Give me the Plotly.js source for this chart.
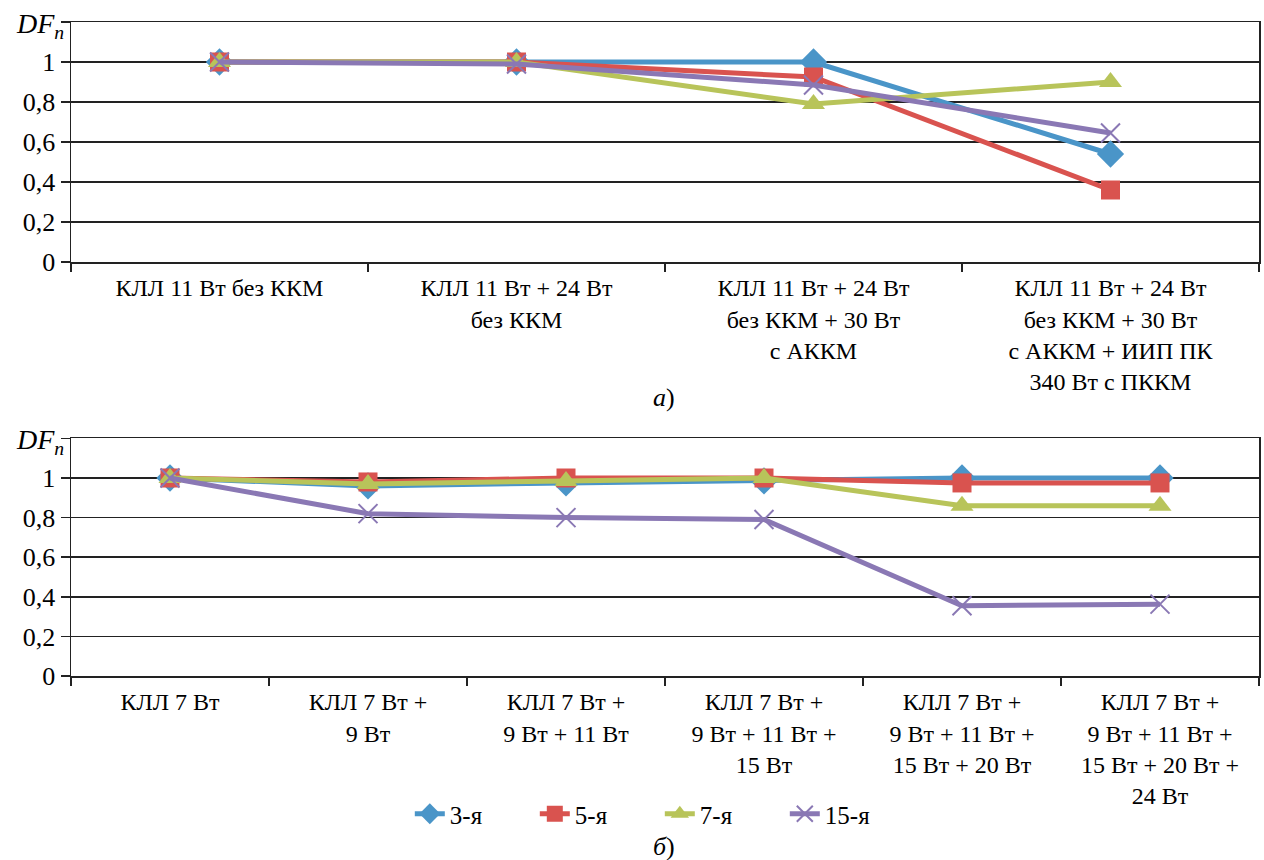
<!DOCTYPE html>
<html>
<head>
<meta charset="utf-8">
<script src="https://cdn.plot.ly/plotly-3.0.1.min.js"></script>
<style>html,body{margin:0;padding:0;background:#fff;font-family:'Liberation Serif';}
#chart text, #chart tspan { font-family: 'Liberation Serif', serif !important; }
</style>
</head>
<body>
<div id="chart" style="width:1264px;height:860px"></div>
<script>
const seriesNames = ["3-я", "5-я", "7-я", "15-я"];
const catsTop = [
  "КЛЛ 11 Вт без ККМ",
  "КЛЛ 11 Вт + 24 Вт<br>без ККМ",
  "КЛЛ 11 Вт + 24 Вт<br>без ККМ + 30 Вт<br>с АККМ",
  "КЛЛ 11 Вт + 24 Вт<br>без ККМ + 30 Вт<br>с АККМ + ИИП ПК<br>340 Вт с ПККМ"
];
const top3 = [1, 1, 1, 0.54];
const top5 = [1, 1, 0.925, 0.36];
const top7 = [1, 1, 0.79, 0.9];
const top15 = [1, 0.99, 0.885, 0.645];

const catsBot = [
  "КЛЛ 7 Вт",
  "КЛЛ 7 Вт +<br>9 Вт",
  "КЛЛ 7 Вт +<br>9 Вт + 11 Вт",
  "КЛЛ 7 Вт +<br>9 Вт + 11 Вт +<br>15 Вт",
  "КЛЛ 7 Вт +<br>9 Вт + 11 Вт +<br>15 Вт + 20 Вт",
  "КЛЛ 7 Вт +<br>9 Вт + 11 Вт +<br>15 Вт + 20 Вт +<br>24 Вт"
];
const bot3 = [1, 0.96, 0.975, 0.985, 1, 1];
const bot5 = [1, 0.98, 1, 1, 0.975, 0.975];
const bot7 = [1, 0.97, 0.985, 1, 0.86, 0.86];
const bot15 = [1, 0.82, 0.80, 0.79, 0.355, 0.363];

const yTickVals = [0, 0.2, 0.4, 0.6, 0.8, 1, 1.2];
const yTickText = ["0", "0,2", "0,4", "0,6", "0,8", "1", " "];

const colors = ["#4a95c8", "#d9534f", "#b8c45a", "#8a78b4"];
const symbols = ["diamond", "square", "triangle-up", "x-thin-open"];
const sizes = [21, 19, 20, 19];

const topData = [top3, top5, top7, top15];
const botData = [bot3, bot5, bot7, bot15];

function F(size) { return {family: "Liberation Serif", size: size, color: "#000"}; }

const traces = [];
function addTraces(cats, data, xa, ya, legend) {
  for (let i = 0; i < 4; i++) {
    const marker = {symbol: symbols[i], size: sizes[i], color: colors[i]};
    if (symbols[i] === "x-thin-open") marker.line = {color: colors[i], width: 2};
    traces.push({
      type: "scatter", mode: "lines+markers", name: seriesNames[i],
      x: cats, y: data[i], xaxis: xa, yaxis: ya,
      line: {color: colors[i], width: 5}, marker: marker,
      legendgroup: "g" + i, showlegend: legend, cliponaxis: false
    });
  }
}
addTraces(catsTop, topData, "x", "y", true);
addTraces(catsBot, botData, "x2", "y2", false);

const xd = [71 / 1264, 1259 / 1264];

function yax(domain) {
  return {
    domain: domain, range: [0, 1.2], tickmode: "array", tickvals: yTickVals, ticktext: yTickText,
    showgrid: true, gridcolor: "#222", gridwidth: 1.5, zeroline: false,
    showline: true, linecolor: "#222", linewidth: 1.5, mirror: true,
    ticks: "outside", ticklen: 9, tickwidth: 1.5, tickcolor: "#222",
    tickfont: F(26), fixedrange: true
  };
}
function xax(anchor, n) {
  return {
    domain: xd, anchor: anchor, type: "category", range: [-0.5, n - 0.5], autorange: false,
    tickson: "boundaries", ticklabelstandoff: 4,
    ticks: "outside", ticklen: 8, tickwidth: 1.5, tickcolor: "#222",
    showline: true, linecolor: "#222", linewidth: 1.5, mirror: true,
    showgrid: false, zeroline: false, tickfont: F(24), tickangle: 0, fixedrange: true
  };
}

const layout = {
  width: 1264, height: 860,
  margin: {l: 0, r: 0, t: 0, b: 0},
  paper_bgcolor: "#fff", plot_bgcolor: "#fff",
  font: F(24),
  showlegend: true,
  legend: {orientation: "h", x: 0.522, xanchor: "center", y: 1 - 814 / 860, yanchor: "middle",
           font: F(25), bgcolor: "rgba(0,0,0,0)", entrywidth: 80, entrywidthmode: "pixels"},
  xaxis: xax("y", catsTop.length),
  yaxis: yax([1 - 262 / 860, 1 - 22 / 860]),
  xaxis2: xax("y2", catsBot.length),
  yaxis2: yax([1 - 676 / 860, 1 - 438.4 / 860]),
  annotations: [
    {text: "<i>DF<sub>n</sub></i>", xref: "paper", yref: "paper", x: 66 / 1264, y: 1 - 25 / 860,
     xanchor: "right", yanchor: "middle", showarrow: false, font: F(28)},
    {text: "<i>DF<sub>n</sub></i>", xref: "paper", yref: "paper", x: 66 / 1264, y: 1 - 441 / 860,
     xanchor: "right", yanchor: "middle", showarrow: false, font: F(28)},
    {text: "<i>а</i>)", xref: "paper", yref: "paper", x: 664 / 1264, y: 1 - 397 / 860,
     xanchor: "center", yanchor: "middle", showarrow: false, font: F(26)},
    {text: "<i>б</i>)", xref: "paper", yref: "paper", x: 664 / 1264, y: 1 - 846 / 860,
     xanchor: "center", yanchor: "middle", showarrow: false, font: F(26)}
  ]
};

Plotly.newPlot("chart", traces, layout, {staticPlot: true, displayModeBar: false});
</script>
</body>
</html>
